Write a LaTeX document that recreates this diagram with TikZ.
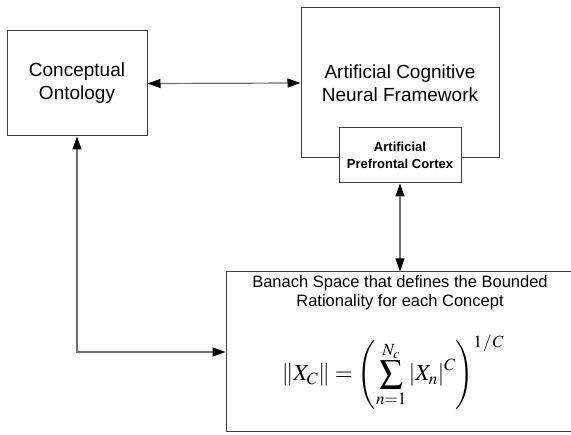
\documentclass[tikz,border=0pt]{standalone}
\usepackage{amsmath}
\usepackage{mathptmx}
\usepackage{fontspec}
\setmainfont{Liberation Sans}
\usetikzlibrary{arrows.meta,positioning}
\definecolor{boxLine}{RGB}{64,64,64}
\definecolor{linkGray}{RGB}{112,112,112}

\begin{document}
\begin{tikzpicture}[
  x=1pt,y=-1pt,
  every node/.style={align=center,text=black},
  box/.style={rectangle,draw=boxLine,line width=1pt,fill=white,inner sep=0pt},
  subbox/.style={box,font=\bfseries\fontsize{13}{16.5}\selectfont},
  link/.style={draw=linkGray,line width=1.2pt,
    {Triangle[length=13pt,width=9pt,color=black]}-{Triangle[length=13pt,width=9pt,color=black]}}
]
  \useasboundingbox (0,0) rectangle (571,435);

  \node[box,minimum width=140,minimum height=105,font=\fontsize{19}{23}\selectfont]
    (onto) at (77,83.5) {Conceptual\\Ontology};
  \node[box,minimum width=198,minimum height=150,font=\fontsize{19}{23}\selectfont]
    (acnf) at (400,83) {Artificial Cognitive\\Neural Framework};
  \node[subbox,minimum width=122,minimum height=55] (apc) at (400,155.5)
    {Artificial\\Prefrontal Cortex};

  \node[box,minimum width=348,minimum height=160] (banach) at (400,352) {};
  \node[anchor=north,inner sep=3.5pt,font=\fontsize{16.5}{19.5}\selectfont]
    (title) at (banach.north) {Banach Space that defines the Bounded\\Rationality for each Concept};
  \node[inner sep=0pt,font=\fontsize{23}{27}\selectfont] (norm) at (393,372)
    {$\displaystyle \left\|X_C\right\| = \left(\sum_{n=1}^{N_c}\left|X_n\right|^C\right)^{1\mkern1mu/\mkern1mu C}$};

  \draw[link] (onto.east) -- (acnf.west);
  \draw[link] (apc.south) -- (banach.north);
  \draw[link] (onto.south) |- (banach.west);
\end{tikzpicture}
\end{document}
